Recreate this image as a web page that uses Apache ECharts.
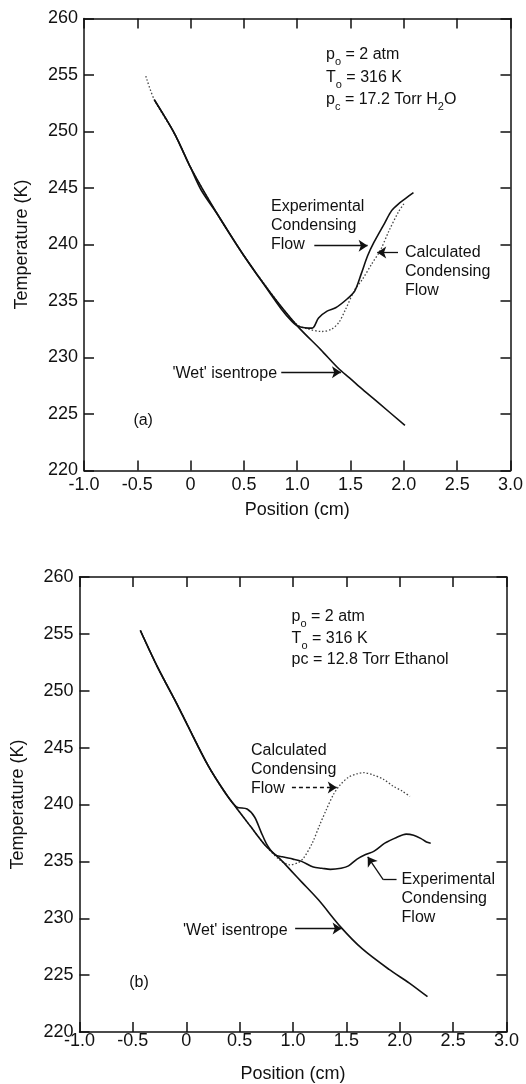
<!DOCTYPE html>
<html>
<head>
<meta charset="utf-8">
<script src="https://cdn.jsdelivr.net/npm/echarts@6/dist/echarts.min.js"></script>
<style>
  html, body { margin: 0; padding: 0; background: #fff; }
  #chart { width: 526px; height: 1084px; }
</style>
</head>
<body>
<div id="chart"></div>
<script>
const xTickLabels = ['-1.0', '-0.5', '0', '0.5', '1.0', '1.5', '2.0', '2.5', '3.0']
const yTickLabels = ['220', '225', '230', '235', '240', '245', '250', '255', '260']

// panel (a): p_c = 17.2 Torr H2O
const wetIsentropeA = [
  [-0.34, 252.8], [-0.15, 249.8], [0, 246.8], [0.1, 244.8], [0.25, 242.7], [0.5, 239.0],
  [0.75, 235.7], [1.0, 232.8], [1.22, 230.7], [1.39, 229.0], [1.49, 228.2], [1.61, 227.2],
  [1.76, 226.0], [2.01, 224.0]
]
const experimentalA = [
  [-0.34, 252.8], [-0.15, 249.8], [0, 246.8], [0.25, 242.7], [0.5, 239.0], [0.7, 236.3],
  [0.85, 234.3], [0.95, 233.2], [1.015, 232.75], [1.14, 232.6], [1.2, 233.5], [1.28, 234.1],
  [1.36, 234.4], [1.47, 235.2], [1.54, 235.9], [1.6, 237.4], [1.66, 239.0], [1.72, 240.2],
  [1.82, 241.9], [1.885, 243.0], [1.95, 243.6], [2.02, 244.1], [2.09, 244.6]
]
const calculatedA = [
  [-0.42, 254.9], [-0.34, 252.8], [-0.15, 249.8], [0, 246.8], [0.25, 242.7], [0.5, 239.0],
  [0.7, 236.4], [0.85, 234.5], [1.0, 232.9], [1.11, 232.5], [1.23, 232.3], [1.32, 232.5],
  [1.39, 233.1], [1.45, 234.2], [1.54, 236.0], [1.61, 236.9], [1.7, 238.3], [1.78, 239.5],
  [1.86, 241.2], [1.95, 242.9], [2.0, 243.6]
]

// panel (b): p_c = 12.8 Torr ethanol
const wetIsentropeB = [
  [-0.43, 255.3], [-0.27, 252.1], [-0.08, 248.7], [0.015, 246.9], [0.2, 243.5], [0.36, 241.1],
  [0.47, 239.7], [0.6, 238.1], [0.75, 236.3], [0.88, 235.2], [0.99, 234.1], [1.08, 233.2],
  [1.24, 231.6], [1.45, 229.2], [1.65, 227.3], [1.9, 225.5], [2.09, 224.3], [2.26, 223.1]
]
const experimentalB = [
  [-0.43, 255.3], [-0.27, 252.1], [-0.08, 248.7], [0.2, 243.5], [0.36, 241.1], [0.47, 239.8],
  [0.57, 239.6], [0.64, 238.9], [0.7, 237.6], [0.76, 236.4], [0.83, 235.6], [0.9, 235.4],
  [1.0, 235.2], [1.08, 235.0], [1.19, 234.5], [1.27, 234.4], [1.35, 234.3], [1.45, 234.4],
  [1.52, 234.6], [1.6, 235.2], [1.68, 235.6], [1.76, 235.9], [1.86, 236.6], [1.97, 237.1],
  [2.06, 237.4], [2.13, 237.3], [2.2, 237.0], [2.25, 236.7], [2.29, 236.6]
]
const calculatedB = [
  [-0.43, 255.3], [-0.27, 252.1], [-0.08, 248.7], [0.2, 243.5], [0.36, 241.1], [0.47, 239.7],
  [0.6, 238.1], [0.75, 236.3], [0.88, 235.1], [0.97, 234.7], [1.05, 234.9], [1.1, 235.3],
  [1.18, 236.6], [1.25, 238.2], [1.31, 239.5], [1.38, 240.9], [1.44, 241.7], [1.52, 242.4],
  [1.6, 242.7], [1.66, 242.8], [1.75, 242.6], [1.85, 242.2], [1.94, 241.6], [2.02, 241.2],
  [2.095, 240.7]
]

const FONT = '"Liberation Sans", Arial, Helvetica, sans-serif'
const INK = '#111'

const chart = echarts.init(document.getElementById('chart'))

function xAxes(gridIndex, labelMargin, nameGap) {
  const common = {
    type: 'value',
    gridIndex,
    min: -1,
    max: 3,
    interval: 0.5,
    axisLine: { onZero: false, lineStyle: { color: INK, width: 1.5 } },
    axisTick: { inside: true, length: 10, lineStyle: { color: INK, width: 1.5 } },
    splitLine: { show: false }
  }
  return [
    {
      ...common,
      position: 'bottom',
      name: 'Position (cm)',
      nameLocation: 'middle',
      nameGap,
      nameTextStyle: { fontSize: 18, color: INK, fontFamily: FONT },
      axisLabel: {
        margin: labelMargin,
        fontSize: 18,
        color: INK,
        fontFamily: FONT,
        formatter: v => xTickLabels[Math.round((v + 1) * 2)]
      }
    },
    { ...common, position: 'top', axisLabel: { show: false } }
  ]
}

function yAxes(gridIndex, nameGap) {
  const common = {
    type: 'value',
    gridIndex,
    min: 220,
    max: 260,
    interval: 5,
    axisLine: { onZero: false, lineStyle: { color: INK, width: 1.5 } },
    axisTick: { inside: true, length: 10, lineStyle: { color: INK, width: 1.5 } },
    splitLine: { show: false }
  }
  return [
    {
      ...common,
      position: 'left',
      name: 'Temperature (K)',
      nameLocation: 'middle',
      nameGap,
      nameTextStyle: { fontSize: 18, color: INK, fontFamily: FONT },
      axisLabel: {
        margin: 6,
        fontSize: 18,
        color: INK,
        fontFamily: FONT,
        formatter: v => yTickLabels[Math.round((v - 220) / 5)]
      }
    },
    { ...common, position: 'right', axisLabel: { show: false } }
  ]
}

function arrow(from, to, dashed) {
  return [
    { coord: from, symbol: 'none', lineStyle: { type: dashed ? [4, 3] : 'solid' } },
    { coord: to, symbol: 'arrow' }
  ]
}

function curves(axisIndex, isen, expt, calc, arrows) {
  return [
    {
      type: 'line',
      xAxisIndex: axisIndex,
      yAxisIndex: axisIndex,
      data: calc,
      showSymbol: false,
      smooth: 0.3,
      lineStyle: { color: '#444', width: 1.3, type: [1.5, 2] },
      z: 2
    },
    {
      type: 'line',
      xAxisIndex: axisIndex,
      yAxisIndex: axisIndex,
      data: isen,
      showSymbol: false,
      smooth: 0.3,
      lineStyle: { color: INK, width: 1.6 },
      z: 3
    },
    {
      type: 'line',
      xAxisIndex: axisIndex,
      yAxisIndex: axisIndex,
      data: expt,
      showSymbol: false,
      smooth: 0.3,
      lineStyle: { color: INK, width: 1.6 },
      z: 3,
      markLine: {
        silent: true,
        animation: false,
        symbol: ['none', 'arrow'],
        symbolSize: 9,
        label: { show: false },
        lineStyle: { color: INK, width: 1.3, type: 'solid' },
        data: arrows
      }
    }
  ]
}

chart.setOption({
  animation: false,
  backgroundColor: '#fff',
  grid: [
    { left: 84, right: 13.5, top: 18.5, height: 452 },
    { left: 79.5, right: 19.5, top: 577, height: 456 }
  ],
  xAxis: [...xAxes(0, 6, 31), ...xAxes(1, 0, 33)],
  yAxis: [...yAxes(0, 53), ...yAxes(1, 52)],
  series: [
    ...curves(0, wetIsentropeA, experimentalA, calculatedA, [
      arrow([1.16, 239.9], [1.66, 239.9]),
      arrow([1.945, 239.3], [1.75, 239.3]),
      arrow([0.85, 228.7], [1.41, 228.7])
    ]),
    ...curves(2, wetIsentropeB, experimentalB, calculatedB, [
      arrow([0.99, 241.5], [1.41, 241.5], true),
      [{ coord: [1.97, 233.4], symbol: 'none' }, { coord: [1.845, 233.4], symbol: 'none' }],
      arrow([1.845, 233.4], [1.7, 235.4]),
      arrow([1.02, 229.1], [1.455, 229.1])
    ])
  ]
})

// annotation text, anchored in data coordinates
const rich = {
  m: { fontSize: 16, fontFamily: FONT, color: INK, lineHeight: 22, verticalAlign: 'middle' },
  s: { fontSize: 11, fontFamily: FONT, color: INK, lineHeight: 26, verticalAlign: 'bottom' }
}

function note(grid, x, y, text, opts) {
  const p = chart.convertToPixel({ gridIndex: grid }, [x, y])
  return {
    type: 'text',
    x: p[0],
    y: p[1],
    silent: true,
    style: Object.assign({
      text,
      rich,
      fontSize: 16,
      fontFamily: FONT,
      fill: INK,
      align: 'left',
      verticalAlign: 'middle',
      lineHeight: 19
    }, opts || {})
  }
}

chart.setOption({
  graphic: [
    note(0, 1.27, 256.8, '{m|p}{s|o}{m| = 2 atm}'),
    note(0, 1.27, 254.8, '{m|T}{s|o}{m| = 316 K}'),
    note(0, 1.27, 252.8, '{m|p}{s|c}{m| = 17.2 Torr H}{s|2}{m|O}'),
    note(0, 0.754, 241.7, 'Experimental\nCondensing\nFlow'),
    note(0, 2.01, 237.6, 'Calculated\nCondensing\nFlow'),
    note(0, -0.17, 228.6, "'Wet' isentrope"),
    note(0, -0.445, 224.4, '(a)', { align: 'center' }),

    note(1, 0.987, 256.5, '{m|p}{s|o}{m| = 2 atm}'),
    note(1, 0.987, 254.6, '{m|T}{s|o}{m| = 316 K}'),
    note(1, 0.987, 252.7, 'pc = 12.8 Torr Ethanol'),
    note(1, 0.606, 243.1, 'Calculated\nCondensing\nFlow'),
    note(1, 2.017, 231.7, 'Experimental\nCondensing\nFlow'),
    note(1, -0.03, 228.9, "'Wet' isentrope"),
    note(1, -0.443, 224.3, '(b)', { align: 'center' })
  ]
})
</script>
</body>
</html>
